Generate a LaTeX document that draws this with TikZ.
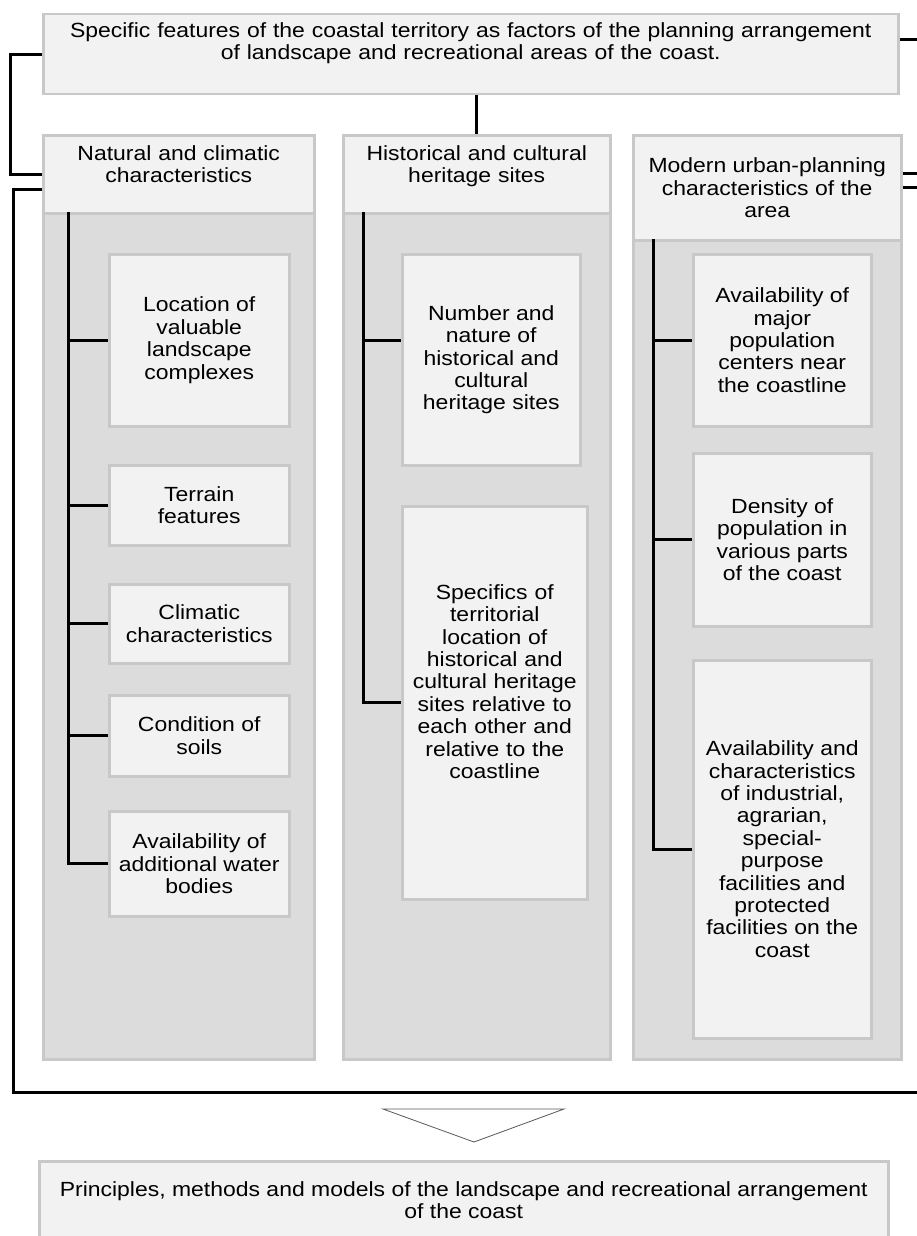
\documentclass[tikz,border=0pt]{standalone}
\usepackage{fontspec}
\setmainfont{Liberation Sans}[FakeStretch=1.12]
\usepackage{xcolor}
\usetikzlibrary{positioning}
\definecolor{boxfill}{HTML}{F2F2F2}
\definecolor{panelfill}{HTML}{DCDCDC}
\definecolor{boxline}{HTML}{C8C8C8}

\begin{document}
\begin{tikzpicture}[
    x=1pt, y=-1pt,
    font=\fontsize{20.5}{22.4}\selectfont,
    box/.style={rectangle, draw=boxline, line width=2.5pt, fill=boxfill, align=center, inner sep=0pt, anchor=north west},
    panel/.style={rectangle, draw=boxline, line width=2.5pt, fill=panelfill, inner sep=0pt, anchor=north west},
    topset/.style={text height=15pt, text depth=#1},
    link/.style={draw=black, line width=3pt},
    pointer/.style={draw=black!65, line width=0.8pt}
]
    \clip (0,0) rectangle (917,1236);
    \fill[white] (0,0) rectangle (917,1236);

    \node[panel, minimum width=271pt, minimum height=846pt] (pnat) at (42,212) {};
    \node[panel, minimum width=267pt, minimum height=846pt] (phis) at (342,212) {};
    \node[panel, minimum width=268pt, minimum height=819pt] (pmod) at (632,239) {};

    \node[box, topset=49pt, inner ysep=8pt, text width=845pt, minimum width=855pt] (top) at (42,13)
        {Specific features of the coastal territory as factors of the planning arrangement\\of landscape and recreational areas of the coast.};
    \node[box, topset=43pt, inner ysep=10pt, text width=265pt, minimum width=271pt] (hnat) at (42,134) {Natural and climatic\\characteristics};
    \node[box, topset=43pt, inner ysep=10pt, text width=260pt, minimum width=267pt] (hhis) at (342,134) {Historical and cultural\\heritage sites};
    \node[box, minimum width=268pt, minimum height=105pt] (hmod) at (632,134) {Modern urban-planning\\characteristics of the\\area};

    \node[box, minimum width=180pt, minimum height=172pt] (loc) at (108,253) {Location of\\valuable\\landscape\\complexes};
    \node[box, minimum width=180pt, minimum height=80pt] (ter) at (108,464) {Terrain\\features};
    \node[box, minimum width=180pt, minimum height=79pt] (cli) at (108,583) {Climatic\\characteristics};
    \node[box, minimum width=180pt, minimum height=81pt] (soi) at (108,694) {Condition of\\soils};
    \node[box, minimum width=180pt, minimum height=105pt] (wat) at (108,810) {Availability of\\additional water\\bodies};

    \node[box, minimum width=178pt, minimum height=211pt] (num) at (401,253) {Number and\\nature of\\historical and\\cultural\\heritage sites};
    \node[box, topset=222pt, inner ysep=78pt, text width=180pt, minimum width=185pt] (spe) at (401,505)
        {Specifics of\\territorial\\location of\\historical and\\cultural heritage\\sites relative to\\each other and\\relative to the\\coastline};

    \node[box, minimum width=178pt, minimum height=172pt] (maj) at (692,253) {Availability of\\major\\population\\centers near\\the coastline};
    \node[box, minimum width=178pt, minimum height=173pt] (den) at (692,452) {Density of\\population in\\various parts\\of the coast};
    \node[box, minimum width=178pt, minimum height=378pt] (ind) at (692,659)
        {Availability and\\characteristics\\of industrial,\\agrarian,\\special-\\purpose\\facilities and\\protected\\facilities on the\\coast};

    \node[box, minimum width=849pt, minimum height=78pt] (res) at (38,1160)
        {Principles, methods and models of the landscape and recreational arrangement\\of the coast};

    \coordinate (lb) at (10,0);
    \coordinate (rb) at (917,0);
    \coordinate (bl) at (13,1092);
    \coordinate (snat) at (68,212);
    \coordinate (shis) at (363,212);
    \coordinate (smod) at (653,239);
    \coordinate (numb) at ([yshift=19pt]num.west);

    \draw[link] (top.west) -- (top.west -| lb) |- (hnat.west);
    \draw[link] ([yshift=15pt]top.east) -- ([yshift=15pt]top.east -| rb);
    \draw[link] (hhis.north |- top.south) -- (hhis.north);
    \draw[link] (hmod.east) -- (hmod.east -| rb);
    \draw[link] ([yshift=14pt]hmod.east) -- ([yshift=14pt]hmod.east -| rb);
    \draw[link] ([yshift=-15pt]hnat.west) -| (bl) -- (bl -| rb);

    \draw[link] (snat) |- (wat.west);
    \foreach \n in {loc,ter,cli,soi}
        \draw[link] (snat |- \n.west) -- (\n.west);
    \draw[link] (shis) |- (spe.west);
    \draw[link] (shis |- numb) -- (numb);
    \draw[link] (smod) |- (ind.west);
    \draw[link] (smod |- maj.west) -- (maj.west);
    \draw[link] (smod |- den.west) -- (den.west);

    \draw[pointer] (383,1109) -- (564,1109) -- (474,1142) -- cycle;
\end{tikzpicture}
\end{document}
